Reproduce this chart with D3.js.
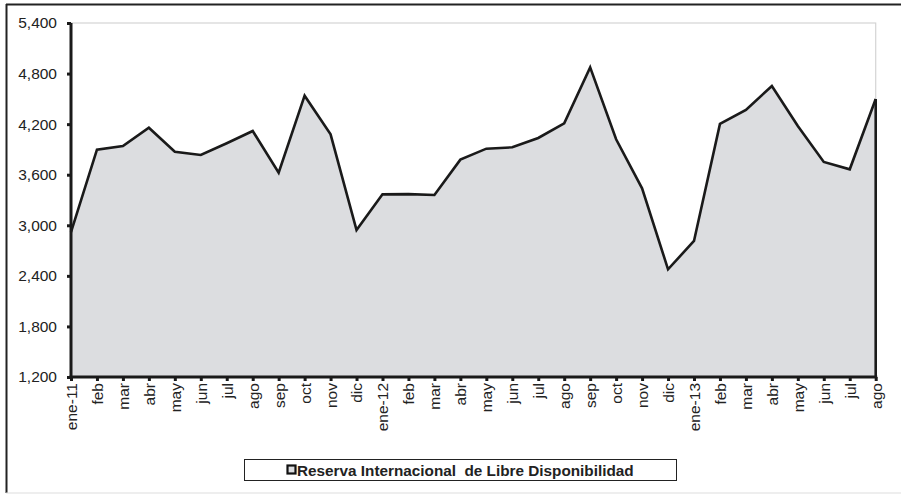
<!DOCTYPE html>
<html><head><meta charset="utf-8">
<script src="https://cdn.jsdelivr.net/npm/d3@7"></script>
<style>body{margin:0;background:#fff}svg{display:block;font-family:Arial,"Liberation Sans",sans-serif}</style>
</head><body><svg id="c" width="901" height="495"></svg>
<script>
const categories = ["ene-11","feb","mar","abr","may","jun","jul","ago","sep","oct","nov","dic",
  "ene-12","feb","mar","abr","may","jun","jul","ago","sep","oct","nov","dic",
  "ene-13","feb","mar","abr","may","jun","jul","ago"];
const values = [2920,3897,3941,4158,3873,3834,3973,4119,3624,4538,4079,2944,
  3367,3370,3359,3779,3909,3925,4036,4210,4874,4020,3439,2478,
  2814,4202,4368,4653,4178,3751,3664,4498];
const yTicks = [1200,1800,2400,3000,3600,4200,4800,5400];
const seriesName = "Reserva Internacional  de Libre Disponibilidad";

const svg = d3.select("#c");
const L=71, R=875.7, T=23, B=377;
const x = d3.scalePoint().domain(d3.range(categories.length)).range([L,R]);
const y = d3.scaleLinear().domain([1200,5400]).range([B,T]);

// outer frame
svg.append("line").attr("x1",6).attr("x2",901).attr("y1",4.5).attr("y2",4.5).attr("stroke","#222").attr("stroke-width",2);
svg.append("line").attr("x1",6.5).attr("x2",6.5).attr("y1",4).attr("y2",493).attr("stroke","#222").attr("stroke-width",2);
svg.append("line").attr("x1",6).attr("x2",901).attr("y1",493).attr("y2",493).attr("stroke","#ddd").attr("stroke-width",1);

// plot area border (light)
svg.append("rect").attr("x",L).attr("y",T).attr("width",R-L).attr("height",B-T).attr("fill","none").attr("stroke","#d4d4d4").attr("stroke-width",1.2);

// area
const area = d3.area().x((d,i)=>x(i)).y0(B).y1(d=>y(d));
svg.append("path").datum(values).attr("d",area).attr("fill","#dcdde0");
const line = d3.line().x((d,i)=>x(i)).y(d=>y(d));
svg.append("path").datum(values).attr("d",line).attr("fill","none").attr("stroke","#1a1a1a").attr("stroke-width",2.6).attr("stroke-linejoin","miter");
svg.append("line").attr("x1",x(values.length-1)).attr("x2",x(values.length-1)).attr("y1",y(values[values.length-1])).attr("y2",B).attr("stroke","#1a1a1a").attr("stroke-width",2.6);

// y axis
const yAxis = d3.axisLeft(y).tickValues(yTicks).tickFormat(d3.format(",")).tickSize(4).tickPadding(10);
const gy = svg.append("g").attr("transform",`translate(${L},0)`).call(yAxis);
gy.select(".domain").attr("stroke","#1a1a1a").attr("stroke-width",3).attr("d",`M0,${T}V${B+1.5}`);
gy.selectAll(".tick line").attr("stroke","#1a1a1a").attr("stroke-width",3);
gy.selectAll("text").attr("font-size",15.5).attr("fill","#222");

// x axis
const xAxis = d3.axisBottom(x).tickFormat(i=>categories[i]).tickSize(4).tickPadding(4);
const gx = svg.append("g").attr("transform",`translate(0,${B})`).call(xAxis);
gx.select(".domain").attr("stroke","#1a1a1a").attr("stroke-width",3).attr("d",`M${L-1.5},0H${R+1.5}`);
gx.selectAll(".tick line").attr("stroke","#1a1a1a").attr("stroke-width",3);
gx.selectAll("text").attr("font-size",15.5).attr("fill","#222")
  .attr("transform","rotate(-90)").attr("text-anchor","end").attr("dy","0.35em").attr("x",-6).attr("y",0);

// legend
const lg = svg.append("g");
lg.append("rect").attr("x",244.5).attr("y",459.5).attr("width",432).attr("height",21).attr("fill","#fff").attr("stroke","#222").attr("stroke-width",1);
lg.append("rect").attr("x",287.5).attr("y",465.5).attr("width",8).attr("height",8).attr("fill","#dcdde0").attr("stroke","#111").attr("stroke-width",2.2);
lg.append("text").attr("x",297).attr("y",475.5).attr("font-size",15.3).attr("font-weight","bold").attr("fill","#222").attr("xml:space","preserve").style("white-space","pre").text(seriesName);
</script></body></html>
